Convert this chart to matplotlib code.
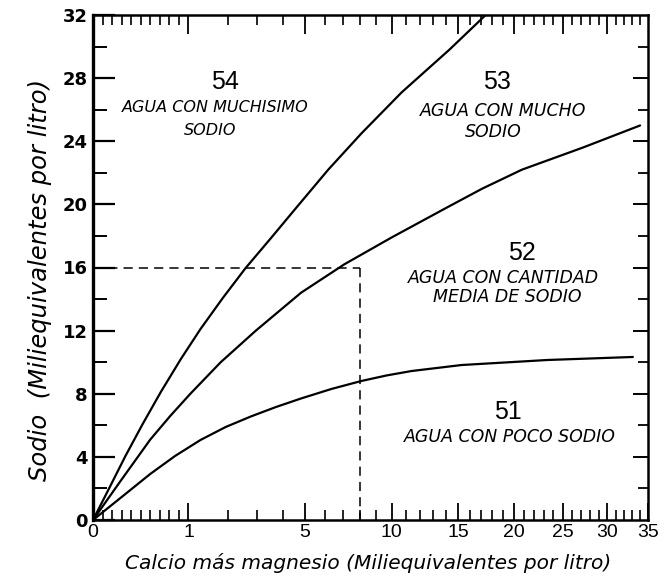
import numpy as np
import matplotlib
matplotlib.use("Agg")
import matplotlib.pyplot as plt
from matplotlib.ticker import FixedLocator, NullFormatter, FixedFormatter

# ---------------- data ----------------
x_boundary_54_53 = [0, 0.16, 0.34, 0.52, 0.71, 0.92, 1.27, 1.86, 2.58, 3.52, 4.59,
                    6.18, 8.07, 10.7, 14.3, 17.4]
y_boundary_54_53 = [0, 1.9, 4.06, 6.08, 8.11, 10.2, 12.1, 14.07, 15.97, 17.87, 19.77,
                    22.2, 24.5, 27.1, 29.8, 32.0]

x_boundary_53_52 = [0, 0.28, 0.6, 0.81, 1.04, 1.8, 2.94, 4.82, 7.06, 10.0, 14.1,
                    17.1, 20.8, 27.2, 34.0]
y_boundary_53_52 = [0, 2.4, 5.1, 6.6, 8.0, 10.0, 12.0, 14.4, 16.2, 17.9, 19.8,
                    21.0, 22.2, 23.6, 25.0]

x_boundary_52_51 = [0, 0.34, 0.6, 0.86, 1.27, 1.94, 2.76, 3.72, 4.82, 6.34, 8.07,
                    9.67, 11.4, 15.3, 23.4, 33.1]
y_boundary_52_51 = [0, 1.65, 2.92, 4.06, 5.07, 5.89, 6.56, 7.16, 7.70, 8.30, 8.81,
                    9.16, 9.44, 9.82, 10.14, 10.33]

ref_x = 8
ref_y = 16

x_major_ticks = [0, 1, 5, 10, 15, 20, 25, 30, 35]
x_tick_labels = ["0", "1", "5", "10", "15", "20", "25", "30", "35"]
x_minor_ticks = [0.1, 0.2, 0.3, 0.4, 0.5, 0.6, 0.7, 0.8, 0.9,
                 2, 3, 4, 6, 7, 8, 9, 11, 12, 13, 14, 16, 17, 18, 19,
                 21, 22, 23, 24, 26, 27, 28, 29, 31, 32, 33, 34]
y_major_ticks = [0, 4, 8, 12, 16, 20, 24, 28, 32]
y_tick_labels = ["0", "4", "8", "12", "16", "20", "24", "28", "32"]
y_minor_ticks = [2, 6, 10, 14, 18, 22, 26, 30]

region_numbers = ["54", "53", "52", "51"]
region_lines = [["AGUA CON MUCHISIMO", "SODIO"],
                ["AGUA CON MUCHO", "SODIO"],
                ["AGUA CON CANTIDAD", "MEDIA DE SODIO"],
                ["AGUA CON POCO SODIO"]]

x_label = "Calcio más magnesio (Miliequivalentes por litro)"
y_label = "Sodio  (Miliequivalentes por litro)"

# ---------------- scale ----------------
POW = 0.495


def fwd(x):
    x = np.asarray(x, dtype=float)
    return np.where(x <= 1, x, np.abs(x) ** POW)


def inv(y):
    y = np.asarray(y, dtype=float)
    return np.where(y <= 1, y, np.abs(y) ** (1.0 / POW))


W, H = 669, 587
fig = plt.figure(figsize=(W / 100, H / 100), dpi=100)
L, R, T, B = 93, 648, 15, 520
ax = fig.add_axes([L / W, (H - B) / H, (R - L) / W, (B - T) / H])

ax.set_xscale("function", functions=(fwd, inv))
ax.set_xlim(0, 35)
ax.set_ylim(0, 32)

lw = 1.6
for xs, ys in ((x_boundary_54_53, y_boundary_54_53),
               (x_boundary_53_52, y_boundary_53_52),
               (x_boundary_52_51, y_boundary_52_51)):
    ax.plot(xs, ys, color="black", lw=lw, solid_capstyle="round",
            solid_joinstyle="round")

ax.plot([0, ref_x], [ref_y, ref_y], color="black", lw=1.1, ls=(0, (6, 4)))
ax.plot([ref_x, ref_x], [ref_y, 0], color="black", lw=1.1, ls=(0, (6, 4)))

for s in ax.spines.values():
    s.set_linewidth(1.8)
ax.spines["left"].set_linewidth(2.4)

# bottom / left ticks
ax.xaxis.set_major_locator(FixedLocator(x_major_ticks))
ax.xaxis.set_major_formatter(FixedFormatter(x_tick_labels))
ax.xaxis.set_minor_locator(FixedLocator(x_minor_ticks))
ax.xaxis.set_minor_formatter(NullFormatter())
ax.yaxis.set_major_locator(FixedLocator(y_major_ticks))
ax.yaxis.set_major_formatter(FixedFormatter(y_tick_labels))
ax.yaxis.set_minor_locator(FixedLocator(y_minor_ticks))
ax.yaxis.set_minor_formatter(NullFormatter())

ax.tick_params(axis="x", which="major", direction="in", length=12, width=1.3,
               pad=3, labelsize=14)
ax.tick_params(axis="x", which="minor", direction="in", length=7, width=1.2)
ax.tick_params(axis="y", which="major", direction="in", length=16, width=1.6,
               pad=4, labelsize=13)
ax.tick_params(axis="y", which="minor", direction="in", length=10, width=1.4)
for lab in ax.get_xticklabels():
    lab.set_fontfamily("Liberation Sans")
for lab in ax.get_yticklabels():
    lab.set_fontweight("bold")

# top ticks
axt = ax.twiny()
axt.set_xscale("function", functions=(fwd, inv))
axt.set_xlim(0, 35)
axt.xaxis.set_major_locator(FixedLocator(x_major_ticks[1:-1]))
axt.xaxis.set_minor_locator(FixedLocator(x_minor_ticks))
axt.xaxis.set_major_formatter(NullFormatter())
axt.xaxis.set_minor_formatter(NullFormatter())
axt.tick_params(axis="x", which="major", direction="in", length=14, width=1.3)
axt.tick_params(axis="x", which="minor", direction="in", length=7, width=1.2)

# right ticks
axr = ax.twinx()
axr.set_ylim(0, 32)
axr.yaxis.set_major_locator(FixedLocator(y_major_ticks[1:-1]))
axr.yaxis.set_minor_locator(FixedLocator(y_minor_ticks))
axr.yaxis.set_major_formatter(NullFormatter())
axr.yaxis.set_minor_formatter(NullFormatter())
axr.tick_params(axis="y", which="major", direction="in", length=11, width=1.4)
axr.tick_params(axis="y", which="minor", direction="in", length=7, width=1.3)
for a in (axt, axr):
    for s in a.spines.values():
        s.set_visible(False)

# region labels (axes fractions)
num_pos = [(0.238, 0.868), (0.727, 0.868), (0.772, 0.528), (0.748, 0.214)]
line_pos = [[(0.220, 0.816), (0.211, 0.772)],
            [(0.739, 0.810), (0.722, 0.768)],
            [(0.739, 0.479), (0.746, 0.442)],
            [(0.751, 0.164)]]
line_size = [11.5, 12.5, 12.5, 12.5]
for num, (nx, ny), lines, lps, fs in zip(region_numbers, num_pos, region_lines,
                                         line_pos, line_size):
    ax.text(nx, ny, num, transform=ax.transAxes, ha="center", va="center",
            fontsize=18, family="Liberation Sans")
    for txt, (tx, ty) in zip(lines, lps):
        ax.text(tx, ty, txt, transform=ax.transAxes, ha="center", va="center",
                fontsize=fs, style="italic", family="DejaVu Sans")

fig.text(368 / W, 1 - 563 / H, x_label, ha="center", va="center",
         fontsize=14.5, style="italic")
fig.text(40 / W, 1 - 280 / H, y_label, ha="center", va="center",
         fontsize=17.5, style="italic", rotation=90)

fig.savefig("out.png", dpi=100)
